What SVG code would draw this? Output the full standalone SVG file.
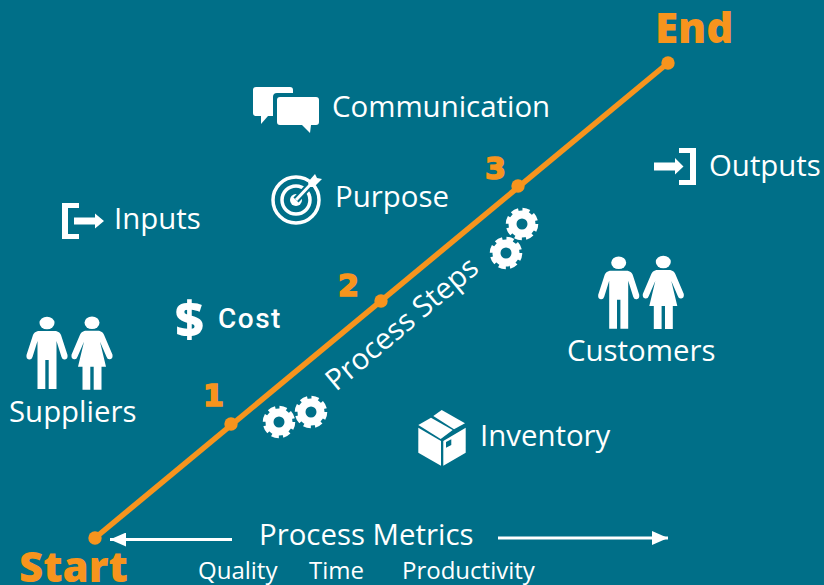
<svg xmlns="http://www.w3.org/2000/svg" width="824" height="585" viewBox="0 0 824 585">
<style>
text{font-family:"Open Sans","Noto Sans",sans-serif;fill:#fff}
.l{font-size:29.4px}
.s{font-size:24px}
.big{font-weight:800;fill:#f7941d;font-size:42px}
.n{font-family:"DejaVu Sans",sans-serif;font-weight:700;fill:#f7941d;stroke:#f7941d;stroke-width:1.6px;font-size:30px}
.w{fill:#fff}
.gr{fill:none;stroke:#fff;stroke-width:8}
.gt{fill:none;stroke:#fff;stroke-width:4.5;stroke-dasharray:7 4}
</style>
<defs>
<g id="man"><ellipse cx="0" cy="0" rx="7.5" ry="6.3" fill="#fff"/><path fill="#fff" d="M-9,8L9,8Q13,9 14,12L20.5,32Q21,36 18,36.5Q15.5,37 14.5,34L9.5,18L9.5,66L1.7,66L1.7,37L-1.7,37L-1.7,66L-9.5,66L-9.5,18L-14.5,34Q-15.5,37 -18,36.5Q-21,36 -20.5,32L-14,12Q-13,9 -9,8Z"/></g>
<g id="woman"><ellipse cx="0" cy="0" rx="7.5" ry="6.3" fill="#fff"/><path fill="#fff" d="M-7,8L7,8Q11,9 12,12L20.5,32Q21,36 18,36.5Q15.5,37 14.5,34L8,19L14,44L9.5,44L9.5,67L1.7,67L1.7,44L-1.7,44L-1.7,67L-9.5,67L-9.5,44L-14,44L-8,19L-14.5,34Q-15.5,37 -18,36.5Q-21,36 -20.5,32L-12,12Q-11,9 -7,8Z"/></g>
<g id="gear"><circle r="9.5" class="gr"/><circle r="14" class="gt"/></g>
<marker id="ah" markerUnits="userSpaceOnUse" markerWidth="16" markerHeight="14" refX="16" refY="7" orient="auto-start-reverse"><path d="M0,0L16,7L0,14Z" fill="#fff"/></marker>
</defs>
<rect width="824" height="585" fill="#006f88"/>
<g id="connectors">
<path d="M95,538L668,63" fill="none" stroke="#f7941d" stroke-width="5.5"/>
<path d="M232,539.5H110" fill="none" stroke="#fff" stroke-width="3" marker-end="url(#ah)" id="metric-left"/>
<path d="M498,538H668" fill="none" stroke="#fff" stroke-width="3" marker-end="url(#ah)" id="metric-right"/>
</g>
<g id="step-start"><circle cx="95" cy="538" r="6.7" fill="#f7941d"/><text class="big" x="19" y="582">Start</text></g>
<g id="step-1"><circle cx="231" cy="424" r="6.7" fill="#f7941d"/><text class="n" x="203" y="406">1</text></g>
<g id="step-2"><circle cx="381" cy="301" r="6.7" fill="#f7941d"/><text class="n" x="338" y="296">2</text></g>
<g id="step-3"><circle cx="518" cy="186" r="6.7" fill="#f7941d"/><text class="n" x="485" y="179">3</text></g>
<g id="step-end"><circle cx="668" cy="63" r="6.7" fill="#f7941d"/><text class="big" x="655" y="43">End</text></g>
<g id="communication">
<path class="w" d="M256,87H290Q293,87 293,90V93H277Q273,93 273,97V116H268L261,124V116H256Q253,116 253,113V90Q253,87 256,87Z"/>
<path class="w" d="M280,97H316Q319,97 319,100V122Q319,125 316,125H311L310,133L302,125H280Q277,125 277,122V100Q277,97 280,97Z"/>
<text class="l" x="332" y="117">Communication</text>
</g>
<g id="purpose">
<circle cx="296" cy="200" r="23" fill="none" stroke="#fff" stroke-width="3.5"/>
<circle cx="296" cy="200" r="14" fill="none" stroke="#fff" stroke-width="3.5"/>
<circle cx="296" cy="200" r="6" fill="#fff"/>
<path d="M296,200L311,184" stroke="#006f88" stroke-width="7" fill="none"/>
<path d="M296,200L311,184" stroke="#fff" stroke-width="3" fill="none"/>
<path class="w" d="M308,182L315,174L317,178L322,179L314,187L309,187Z"/>
<text class="l" x="335" y="207">Purpose</text>
</g>
<g id="inputs">
<path class="w" d="M62,203H79V208H68V234H79V239H62Z"/>
<path class="w" d="M74,217.5H95V213.5L104,221L95,228.5V224.5H74Z"/>
<text class="l" x="114" y="229">Inputs</text>
</g>
<g id="outputs">
<path class="w" d="M654,162.5H675V158L683.5,166.5L675,174.5V170.5H654Z"/>
<path class="w" d="M679,148H696V185H679V180H690V153H679Z"/>
<text class="l" x="709" y="176">Outputs</text>
</g>
<g id="cost">
<text x="175" y="337" style="font-size:50px;font-weight:800">$</text>
<text x="218" y="328" style="font-family:Roboto,sans-serif;font-weight:500;font-size:28px;letter-spacing:1.5px">Cost</text>
</g>
<g id="suppliers">
<use href="#man" x="47" y="323"/><use href="#woman" x="92" y="322.7"/>
<text class="l" x="9" y="422">Suppliers</text>
</g>
<g id="customers">
<use href="#man" x="618.7" y="262.7"/><use href="#woman" x="663.3" y="262"/>
<text class="l" x="567" y="361">Customers</text>
</g>
<g id="gears-lower"><use href="#gear" x="279" y="422"/><use href="#gear" x="311" y="412"/></g>
<g id="gears-upper"><use href="#gear" x="522" y="224"/><use href="#gear" x="506" y="253"/></g>
<g id="process-steps"><text class="l" transform="translate(336,392) rotate(-40)">Process Steps</text></g>
<g id="inventory">
<path class="w" d="M418.3,427.7L441,441V465.7L418.3,452.7Z"/>
<path class="w" d="M443.3,441L465.7,427.7V452.7L443.3,465.7ZM446,442V447.7L451.3,445V439.3Z" fill-rule="evenodd"/>
<path class="w" d="M418.3,425L431,417.7L452.7,430L440.7,439Z"/>
<path class="w" d="M433.3,416L441.7,410L465,423.3L454,429.3Z"/>
<text class="l" x="480" y="446">Inventory</text>
</g>
<g id="metrics">
<text class="l" x="259" y="545">Process Metrics</text>
<text class="s" x="198" y="579">Quality</text>
<text class="s" x="309" y="579">Time</text>
<text class="s" x="402" y="579">Productivity</text>
</g>
</svg>
